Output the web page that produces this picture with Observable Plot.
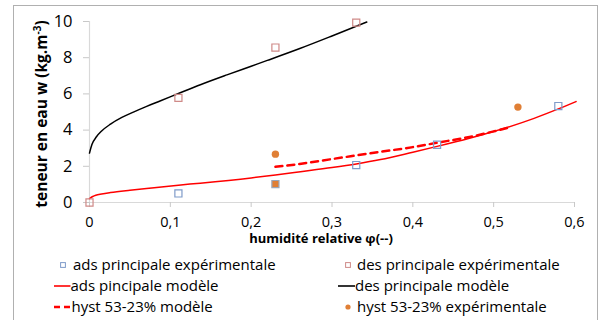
<!DOCTYPE html>
<html>
<head>
<meta charset="utf-8">
<script src="https://cdn.jsdelivr.net/npm/d3@7"></script>
<script src="https://cdn.jsdelivr.net/npm/@observablehq/plot@0.6"></script>
<style>
  html, body { margin: 0; padding: 0; background: #fff; }
  #wrap { position: relative; width: 607px; height: 320px; overflow: hidden; font-family: "Open Sans", sans-serif; }
  #frame { position: absolute; left: 13px; top: 5px; width: 585px; height: 340px; border: 1.5px solid #b0b0b0; box-sizing: border-box; }
  #chart { position: absolute; left: 0; top: 0; }
  .ytitle { position: absolute; left: 41px; top: 114px; transform: translate(-50%, -50%) rotate(-90deg); white-space: nowrap; font-weight: bold; font-size: 15.5px; color: #000; }
  .xtitle { position: absolute; left: 321px; top: 238px; transform: translate(-50%, -50%); white-space: nowrap; font-weight: bold; font-size: 13px; color: #000; }
  .leg { position: absolute; font-size: 15px; color: #000; white-space: nowrap; line-height: 1; }
  .leg .t { position: absolute; top: 50%; transform: translateY(-55%); }
</style>
</head>
<body>
<div id="wrap">
  <div id="frame"></div>
  <div id="chart"></div>
  <div class="ytitle">teneur en eau w (kg.m<sup style="font-size:10px">-3</sup>)</div>
  <div class="xtitle">humidité relative φ(--)</div>
  <div id="legend"></div>
</div>
<script>
// ---- data ----
const adsExpX = [0.11, 0.33, 0.43, 0.58];
const adsExpY = [0.50, 2.07, 3.19, 5.33];
const desExpX = [0, 0.11, 0.23, 0.33];
const desExpY = [0, 5.78, 8.56, 9.94];
const hystExpX = [0.23, 0.53];
const hystExpY = [2.67, 5.27];
const hystSqX = [0.23];
const hystSqY = [1.02];
const adsModX = [0, 0.004, 0.0078, 0.015, 0.026, 0.05, 0.08, 0.113, 0.137, 0.2, 0.23, 0.261, 0.3, 0.33, 0.36, 0.4, 0.43, 0.47, 0.5, 0.55, 0.58, 0.602];
const adsModY = [0.22, 0.33, 0.40, 0.47, 0.55, 0.68, 0.82, 0.97, 1.07, 1.36, 1.52, 1.70, 1.93, 2.13, 2.37, 2.78, 3.10, 3.55, 3.92, 4.65, 5.17, 5.58];
const desModX = [0, 0.003, 0.0086, 0.015, 0.026, 0.04, 0.055, 0.07, 0.088, 0.11, 0.138, 0.17, 0.2, 0.22, 0.261, 0.3, 0.343];
const desModY = [2.73, 3.2, 3.63, 3.95, 4.33, 4.7, 5.01, 5.3, 5.62, 6.02, 6.52, 7.05, 7.53, 7.85, 8.52, 9.2, 9.97];
const hystModX = [0.23, 0.26, 0.3, 0.33, 0.36, 0.4, 0.43, 0.47, 0.5, 0.522];
const hystModY = [1.97, 2.13, 2.4, 2.6, 2.8, 3.06, 3.3, 3.62, 3.93, 4.18];
const xTicks = [0, 0.1, 0.2, 0.3, 0.4, 0.5, 0.6];
const yTicks = [0, 2, 4, 6, 8, 10];
const legendLabels = ["ads principale expérimentale", "des principale expérimentale", "ads pincipale modèle", "des principale modèle", "hyst 53-23% modèle", "hyst 53-23% expérimentale"];

const zip = (xs, ys) => xs.map((x, i) => ({x, y: ys[i]}));
const C = {adsSq: "#7f9bc9", desSq: "#cf8a88", red: "#ff0000", black: "#000000", orange: "#e07f35"};

const plot = Plot.plot({
  width: 607,
  height: 250,
  marginLeft: 89,
  marginRight: 33,
  marginTop: 21,
  marginBottom: 48,
  style: {fontFamily: "'Open Sans', sans-serif", background: "transparent", overflow: "visible"},
  x: {domain: [0, 0.6]},
  y: {domain: [0, 10]},
  marks: [
    Plot.ruleY([0], {stroke: "#d9d9d9", strokeWidth: 1.2}),
    Plot.ruleX([0], {stroke: "#d9d9d9", strokeWidth: 1.2}),
    Plot.axisX({ticks: xTicks, tickSize: 5, tickPadding: 9, stroke: "#c8c8c8", fill: "#000", fontSize: 14.5, label: null,
      tickFormat: d => d === 0 ? "0" : String(d).replace(".", ",")}),
    Plot.axisY({ticks: yTicks, tickSize: 6, tickPadding: 11, stroke: "#c8c8c8", fill: "#000", fontSize: 16.5, label: null}),
    Plot.line(zip(adsModX, adsModY), {x: "x", y: "y", stroke: C.red, strokeWidth: 1.5, curve: "monotone-x"}),
    Plot.line(zip(desModX, desModY), {x: "x", y: "y", stroke: C.black, strokeWidth: 1.5, curve: "monotone-x"}),
    Plot.line(zip(hystModX, hystModY), {x: "x", y: "y", stroke: C.red, strokeWidth: 2.5, strokeDasharray: "7,5", curve: "monotone-x"}),
    Plot.dot(zip(adsExpX, adsExpY), {x: "x", y: "y", symbol: "square", r: 4, stroke: C.adsSq, strokeWidth: 1.2, fill: "none"}),
    Plot.dot(zip(desExpX, desExpY), {x: "x", y: "y", symbol: "square", r: 4, stroke: C.desSq, strokeWidth: 1.2, fill: "none"}),
    Plot.dot(zip(hystSqX, hystSqY), {x: "x", y: "y", symbol: "square", r: 4, stroke: "#9aa6b8", strokeWidth: 1.2, fill: C.orange}),
    Plot.dot(zip(hystExpX, hystExpY), {x: "x", y: "y", r: 3.7, fill: C.orange, stroke: "none"})
  ]
});
document.getElementById("chart").appendChild(plot);

// ---- legend ----
const legend = document.getElementById("legend");
const items = [
  {label: legendLabels[0], kind: "sq", color: C.adsSq, sx: 63, tx: 73, y: 265},
  {label: legendLabels[1], kind: "sq", color: C.desSq, sx: 348, tx: 357, y: 265},
  {label: legendLabels[2], kind: "line", color: C.red, sx: 54, tx: 70.5, y: 286},
  {label: legendLabels[3], kind: "line", color: C.black, sx: 338, tx: 355, y: 286},
  {label: legendLabels[4], kind: "dash", color: C.red, sx: 54, tx: 71.5, y: 307},
  {label: legendLabels[5], kind: "dot", color: C.orange, sx: 348, tx: 357, y: 307}
];
for (const it of items) {
  const sw = document.createElementNS("http://www.w3.org/2000/svg", "svg");
  sw.setAttribute("width", 20); sw.setAttribute("height", 10);
  sw.style.position = "absolute";
  let html = "";
  if (it.kind === "sq") {
    sw.style.left = (it.sx - 5) + "px"; sw.style.top = (it.y - 5) + "px";
    html = `<rect x="2.6" y="2.6" width="4.8" height="4.8" fill="none" stroke="${it.color}" stroke-width="1"/>`;
  } else if (it.kind === "dot") {
    sw.style.left = (it.sx - 5) + "px"; sw.style.top = (it.y - 5) + "px";
    html = `<circle cx="5" cy="5" r="2.6" fill="${it.color}"/>`;
  } else if (it.kind === "line") {
    sw.style.left = it.sx + "px"; sw.style.top = (it.y - 5) + "px";
    html = `<line x1="0" x2="${it.tx - it.sx}" y1="5" y2="5" stroke="${it.color}" stroke-width="1.6"/>`;
  } else {
    sw.style.left = it.sx + "px"; sw.style.top = (it.y - 5) + "px";
    html = `<line x1="0" x2="16.5" y1="5" y2="5" stroke="${it.color}" stroke-width="2.4" stroke-dasharray="6,4"/>`;
  }
  sw.innerHTML = html;
  legend.appendChild(sw);
  const t = document.createElement("div");
  t.className = "leg";
  t.style.left = it.tx + "px";
  t.style.top = (it.y - 10) + "px";
  t.style.height = "20px";
  t.innerHTML = `<span class="t">${it.label}</span>`;
  legend.appendChild(t);
}
</script>
</body>
</html>
